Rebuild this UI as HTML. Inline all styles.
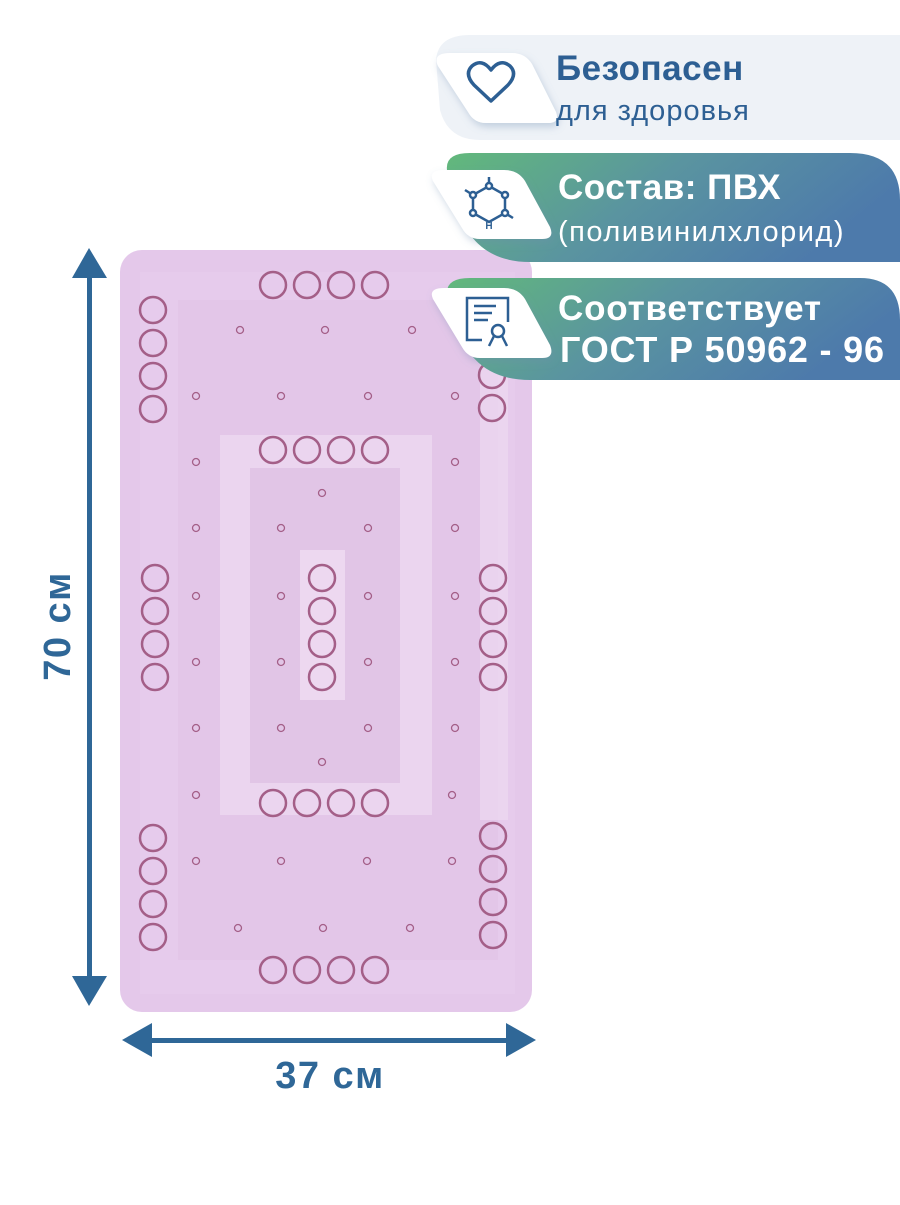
<!DOCTYPE html>
<html><head><meta charset="utf-8"><style>
html,body{margin:0;padding:0;background:#fff;}
body{width:900px;height:1200px;overflow:hidden;font-family:"Liberation Sans","DejaVu Sans",sans-serif;}
</style></head><body>
<svg width="900" height="1200" viewBox="0 0 900 1200" xmlns="http://www.w3.org/2000/svg">
<defs>
<linearGradient id="g" x1="0" y1="0" x2="1" y2="0.3">
<stop offset="0" stop-color="#62b97b"/><stop offset="0.5" stop-color="#5a94a0"/><stop offset="1" stop-color="#4d7aab"/>
</linearGradient>
<filter id="sh" x="-20%" y="-20%" width="140%" height="150%"><feDropShadow dx="2" dy="4" stdDeviation="4" flood-color="#6f8fb0" flood-opacity="0.35"/></filter>
</defs>

<!-- mat -->
<rect x="120" y="250" width="412" height="762" rx="22" fill="#e4c8ea"/>
<rect x="140" y="272" width="375" height="722" fill="#e8cdec" opacity="0.6"/>
<rect x="178" y="300" width="320" height="660" fill="#dfc2e4" opacity="0.5"/>
<rect x="220" y="435" width="212" height="380" fill="#ebd5ef"/>
<rect x="250" y="468" width="150" height="315" fill="#e1c5e6"/>
<rect x="300" y="550" width="45" height="150" fill="#edd8f0"/>
<rect x="480" y="360" width="28" height="460" fill="#edd9f1" opacity="0.7"/>

<g fill="none" stroke="#a45f88" stroke-width="2.5">
<circle cx="273" cy="285" r="13"/><circle cx="307" cy="285" r="13"/><circle cx="341" cy="285" r="13"/><circle cx="375" cy="285" r="13"/>
<circle cx="153" cy="310" r="13"/><circle cx="153" cy="343" r="13"/><circle cx="153" cy="376" r="13"/><circle cx="153" cy="409" r="13"/>
<circle cx="492" cy="375" r="13"/><circle cx="492" cy="408" r="13"/>
<circle cx="273" cy="450" r="13"/><circle cx="307" cy="450" r="13"/><circle cx="341" cy="450" r="13"/><circle cx="375" cy="450" r="13"/>
<circle cx="155" cy="578" r="13"/><circle cx="155" cy="611" r="13"/><circle cx="155" cy="644" r="13"/><circle cx="155" cy="677" r="13"/>
<circle cx="322" cy="578" r="13"/><circle cx="322" cy="611" r="13"/><circle cx="322" cy="644" r="13"/><circle cx="322" cy="677" r="13"/>
<circle cx="493" cy="578" r="13"/><circle cx="493" cy="611" r="13"/><circle cx="493" cy="644" r="13"/><circle cx="493" cy="677" r="13"/>
<circle cx="273" cy="803" r="13"/><circle cx="307" cy="803" r="13"/><circle cx="341" cy="803" r="13"/><circle cx="375" cy="803" r="13"/>
<circle cx="153" cy="838" r="13"/><circle cx="153" cy="871" r="13"/><circle cx="153" cy="904" r="13"/><circle cx="153" cy="937" r="13"/>
<circle cx="493" cy="836" r="13"/><circle cx="493" cy="869" r="13"/><circle cx="493" cy="902" r="13"/><circle cx="493" cy="935" r="13"/>
<circle cx="273" cy="970" r="13"/><circle cx="307" cy="970" r="13"/><circle cx="341" cy="970" r="13"/><circle cx="375" cy="970" r="13"/>
</g>
<g fill="none" stroke="#a45f88" stroke-width="1.3">
<circle cx="240" cy="330" r="3.5"/><circle cx="325" cy="330" r="3.5"/><circle cx="412" cy="330" r="3.5"/>
<circle cx="196" cy="396" r="3.5"/><circle cx="281" cy="396" r="3.5"/><circle cx="368" cy="396" r="3.5"/><circle cx="455" cy="396" r="3.5"/>
<circle cx="196" cy="462" r="3.5"/><circle cx="455" cy="462" r="3.5"/>
<circle cx="322" cy="493" r="3.5"/>
<circle cx="196" cy="528" r="3.5"/><circle cx="281" cy="528" r="3.5"/><circle cx="368" cy="528" r="3.5"/><circle cx="455" cy="528" r="3.5"/>
<circle cx="196" cy="596" r="3.5"/><circle cx="281" cy="596" r="3.5"/><circle cx="368" cy="596" r="3.5"/><circle cx="455" cy="596" r="3.5"/>
<circle cx="196" cy="662" r="3.5"/><circle cx="281" cy="662" r="3.5"/><circle cx="368" cy="662" r="3.5"/><circle cx="455" cy="662" r="3.5"/>
<circle cx="196" cy="728" r="3.5"/><circle cx="281" cy="728" r="3.5"/><circle cx="368" cy="728" r="3.5"/><circle cx="455" cy="728" r="3.5"/>
<circle cx="322" cy="762" r="3.5"/>
<circle cx="196" cy="795" r="3.5"/><circle cx="452" cy="795" r="3.5"/>
<circle cx="196" cy="861" r="3.5"/><circle cx="281" cy="861" r="3.5"/><circle cx="367" cy="861" r="3.5"/><circle cx="452" cy="861" r="3.5"/>
<circle cx="238" cy="928" r="3.5"/><circle cx="323" cy="928" r="3.5"/><circle cx="410" cy="928" r="3.5"/>
</g>

<!-- dimension arrows -->
<g fill="#2f6797">
<rect x="87" y="270" width="5" height="712"/>
<polygon points="89,248 72,278 107,278"/>
<polygon points="89,1006 72,976 107,976"/>
<rect x="145" y="1038" width="368" height="5"/>
<polygon points="122,1040 152,1023 152,1057"/>
<polygon points="536,1040 506,1023 506,1057"/>
</g>
<text x="0" y="0" transform="translate(70,626) rotate(-90)" text-anchor="middle" font-size="38" font-weight="bold" letter-spacing="1.5" fill="#2f6797">70 см</text>
<text x="330" y="1088" text-anchor="middle" font-size="38" font-weight="bold" letter-spacing="1.5" fill="#2f6797">37 см</text>

<!-- banner 1 -->
<path d="M470,35 H900 V140 H480 Q448,140 440,110 L436,60 Q438,35 470,35 Z" fill="#eef2f7"/>
<path d="M450,53 H512 Q525,53 532,64 L556,112 Q560,123 548,123 H486 Q474,123 468,112 L438,66 Q432,53 450,53 Z" fill="#fff" filter="url(#sh)"/>
<path d="M491,101 L474,85 Q464,74 472,66 Q482,58 491,70 Q500,58 510,66 Q518,74 508,85 Z" fill="none" stroke="#2d5f93" stroke-width="3.5" stroke-linejoin="round"/>
<text x="556" y="80" font-size="35" font-weight="bold" letter-spacing="0.5" fill="#2d5f93">Безопасен</text>
<text x="556" y="120" font-size="29" letter-spacing="1" fill="#2d5f93">для здоровья</text>

<!-- banner 2 -->
<path d="M470,153 H850 Q900,153 900,200 V262 H530 Q470,262 455,200 L447,170 Q445,153 470,153 Z" fill="url(#g)"/>
<path d="M444,170 H504 Q518,170 525,181 L550,227 Q555,239 542,239 H480 Q468,239 462,228 L433,181 Q428,170 444,170 Z" fill="#fff" filter="url(#sh)"/>
<g stroke="#2d5f93" stroke-width="2.5" fill="none">
<polygon points="489,186 505,195 505,213 489,222 473,213 473,195"/>
<line x1="489" y1="186" x2="489" y2="177"/><line x1="473" y1="195" x2="465" y2="190"/><line x1="505" y1="213" x2="513" y2="218"/>
</g>
<g fill="#fff" stroke="#2d5f93" stroke-width="2.5">
<circle cx="489" cy="186" r="3"/><circle cx="505" cy="195" r="3"/><circle cx="505" cy="213" r="3"/><circle cx="473" cy="213" r="3"/><circle cx="473" cy="195" r="3"/>
</g>
<text x="489" y="229" text-anchor="middle" font-size="10" font-weight="bold" fill="#2d5f93">H</text>
<text x="558" y="199" font-size="35" font-weight="bold" letter-spacing="0.5" fill="#fff">Состав: ПВХ</text>
<text x="558" y="241" font-size="29" letter-spacing="1.5" fill="#fff">(поливинилхлорид)</text>

<!-- banner 3 -->
<path d="M470,278 H860 Q900,278 900,320 V380 H530 Q470,380 455,320 L447,295 Q445,278 470,278 Z" fill="url(#g)"/>
<path d="M444,288 H504 Q518,288 525,299 L550,345 Q555,358 542,358 H480 Q468,358 462,347 L433,299 Q428,288 444,288 Z" fill="#fff" filter="url(#sh)"/>
<g stroke="#2d5f93" stroke-width="2.5" fill="none">
<path d="M482,340 H467 V298 H508 V322"/>
<line x1="474" y1="306" x2="496" y2="306"/><line x1="474" y1="313" x2="492" y2="313"/><line x1="474" y1="320" x2="488" y2="320"/>
<circle cx="498" cy="331" r="6"/><path d="M494,336 L489,346 M502,336 L507,346"/>
</g>
<text x="558" y="320" font-size="35" font-weight="bold" letter-spacing="0.8" fill="#fff">Соответствует</text>
<text x="560" y="362" font-size="36" font-weight="bold" letter-spacing="0.8" fill="#fff">ГОСТ Р 50962 - 96</text>
</svg>
</body></html>
